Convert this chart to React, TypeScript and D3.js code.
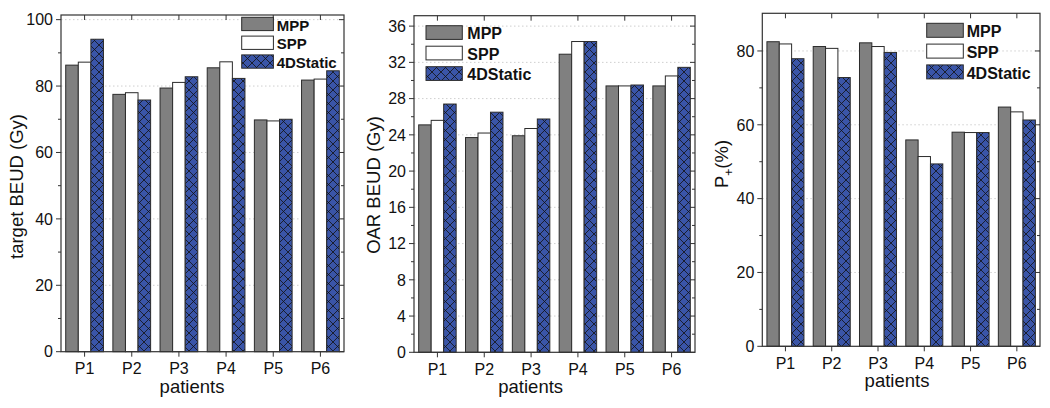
import React from 'react';
import * as d3 from 'd3';

const categories = ['P1', 'P2', 'P3', 'P4', 'P5', 'P6'];
const seriesNames = ['MPP', 'SPP', '4DStatic'];

const targetMPP = [86.3, 77.5, 79.4, 85.5, 69.8, 81.8];
const targetSPP = [87.2, 78.0, 81.1, 87.3, 69.5, 82.1];
const target4D = [94.1, 75.8, 82.8, 82.3, 70.0, 84.6];

const oarMPP = [25.1, 23.7, 23.9, 32.9, 29.4, 29.4];
const oarSPP = [25.6, 24.2, 24.7, 34.3, 29.4, 30.5];
const oar4D = [27.4, 26.5, 25.75, 34.3, 29.5, 31.45];

const ppMPP = [82.5, 81.2, 82.2, 55.9, 58.0, 64.8];
const ppSPP = [81.9, 80.7, 81.2, 51.4, 57.9, 63.5];
const pp4D = [77.9, 72.8, 79.6, 49.4, 57.9, 61.3];

const targetTicks = [0, 20, 40, 60, 80, 100];
const oarTicks = [0, 4, 8, 12, 16, 20, 24, 28, 32, 36];
const ppTicks = [0, 20, 40, 60, 80];

const FONT = 'Arial, "Liberation Sans", sans-serif';
const FRAME = '#333';
const GRAY = '#808080';
const BLUE = '#3a55a8';

type PanelCfg = {
  left: number; right: number; top: number; bottom: number;
  yMax: number; ticks: number[]; minorStep: number;
  series: number[][];
  yTitle: React.ReactNode; yTitleX: number; yTitleY: number;
  xTitleX: number;
  legend: { x: number; y: number; w: number; h: number; gap: number; tx: number; fs: number };
};

const panels: PanelCfg[] = [
  {
    left: 61, right: 344, top: 15, bottom: 351.7, yMax: 101.4, ticks: targetTicks, minorStep: 10,
    series: [targetMPP, targetSPP, target4D],
    yTitle: 'target BEUD (Gy)', yTitleX: 23, yTitleY: 186.5, xTitleX: 192,
    legend: { x: 241.7, y: 17.3, w: 31.7, h: 13.3, gap: 18.8, tx: 276.7, fs: 15 },
  },
  {
    left: 414, right: 695, top: 15.7, bottom: 352.3, yMax: 37.15, ticks: oarTicks, minorStep: 2,
    series: [oarMPP, oarSPP, oar4D],
    yTitle: 'OAR BEUD (Gy)', yTitleX: 379.5, yTitleY: 185, xTitleX: 530.7,
    legend: { x: 426, y: 25.7, w: 36.3, h: 13.7, gap: 20.5, tx: 467.3, fs: 16 },
  },
  {
    left: 762.3, right: 1040, top: 13.3, bottom: 346.3, yMax: 90.2, ticks: ppTicks, minorStep: 10,
    series: [ppMPP, ppSPP, pp4D],
    yTitle: (
      <>
        P<tspan fontSize={12} dy={5}>+</tspan><tspan dy={-5}>(%)</tspan>
      </>
    ),
    yTitleX: 727.7, yTitleY: 164, xTitleX: 897,
    legend: { x: 926.7, y: 23.3, w: 36.6, h: 14, gap: 20.8, tx: 966.7, fs: 16 },
  },
];

function fillFor(i: number) {
  if (i === 0) return GRAY;
  if (i === 1) return '#ffffff';
  return 'url(#hatch)';
}

function Panel({ cfg }: { cfg: PanelCfg }) {
  const x = d3.scaleBand<string>().domain(categories).range([cfg.left, cfg.right]).paddingInner(0.2).paddingOuter(0.1);
  const xs = d3.scaleBand<string>().domain(seriesNames).range([0, x.bandwidth()]).padding(0);
  const y = d3.scaleLinear().domain([0, cfg.yMax]).range([cfg.bottom, cfg.top]);
  const maxTick = cfg.ticks[cfg.ticks.length - 1];
  const minor = d3.range(cfg.minorStep, maxTick + cfg.minorStep * 0.5, cfg.minorStep * 2).filter(v => v < cfg.yMax);
  const cx = (c: string) => (x(c) as number) + x.bandwidth() / 2;
  const L = cfg.legend;
  return (
    <g>
      {cfg.ticks.filter(t => t > 0).map(t => (
        <line key={'g' + t} x1={cfg.left} x2={cfg.right} y1={y(t)} y2={y(t)} stroke="#cfcfcf" strokeWidth={1} strokeDasharray="1.5,2.5" />
      ))}
      {cfg.series.map((vals, si) =>
        categories.map((c, ci) => (
          <rect key={si + '-' + ci}
            x={(x(c) as number) + (xs(seriesNames[si]) as number)}
            y={y(vals[ci])}
            width={xs.bandwidth()}
            height={y(0) - y(vals[ci])}
            fill={fillFor(si)} stroke="#2b2b2b" strokeWidth={1} />
        ))
      )}
      <rect x={cfg.left} y={cfg.top} width={cfg.right - cfg.left} height={cfg.bottom - cfg.top} fill="none" stroke={FRAME} strokeWidth={1.2} />
      {cfg.ticks.map(t => (
        <g key={'t' + t}>
          <line x1={cfg.left - 5} x2={cfg.left} y1={y(t)} y2={y(t)} stroke={FRAME} />
          <line x1={cfg.right - 5} x2={cfg.right} y1={y(t)} y2={y(t)} stroke={FRAME} />
          <text x={cfg.left - 8} y={y(t)} dy="0.36em" textAnchor="end" fontSize={16} fontFamily={FONT} fill="#111">{t}</text>
        </g>
      ))}
      {minor.map(t => (
        <g key={'m' + t}>
          <line x1={cfg.left - 3} x2={cfg.left} y1={y(t)} y2={y(t)} stroke={FRAME} />
          <line x1={cfg.right - 3} x2={cfg.right} y1={y(t)} y2={y(t)} stroke={FRAME} />
        </g>
      ))}
      {categories.map(c => (
        <g key={'x' + c}>
          <line x1={cx(c)} x2={cx(c)} y1={cfg.bottom} y2={cfg.bottom + 5} stroke={FRAME} />
          <line x1={cx(c)} x2={cx(c)} y1={cfg.top} y2={cfg.top + 5} stroke={FRAME} />
          <text x={cx(c)} y={cfg.bottom + 22.3} textAnchor="middle" fontSize={16} fontFamily={FONT} fill="#111">{c}</text>
        </g>
      ))}
      <text x={cfg.xTitleX} y={cfg.bottom + 41} textAnchor="middle" fontSize={18.5} fontFamily={FONT} fill="#111">patients</text>
      <text transform={`translate(${cfg.yTitleX},${cfg.yTitleY}) rotate(-90)`} textAnchor="middle" fontSize={18.5} fontFamily={FONT} fill="#111">{cfg.yTitle}</text>
      {seriesNames.map((s, i) => (
        <g key={'l' + s}>
          <rect x={L.x} y={L.y + i * L.gap} width={L.w} height={L.h} fill={fillFor(i)} stroke="#2b2b2b" strokeWidth={1} />
          <text x={L.tx} y={L.y + i * L.gap + L.h} fontSize={L.fs} fontWeight="bold" fontFamily={FONT} fill="#111">{s}</text>
        </g>
      ))}
    </g>
  );
}

export default function App() {
  return (
    <svg width={1050} height={408} style={{ position: 'absolute', left: 0, top: 0, background: '#fff' }}>
      <defs>
        <pattern id="hatch" patternUnits="userSpaceOnUse" width={9} height={9}>
          <rect width={9} height={9} fill={BLUE} />
          <path d="M0,0 L9,9 M9,0 L0,9" stroke="#111" strokeWidth={0.8} />
        </pattern>
      </defs>
      <rect width={1050} height={408} fill="#fff" />
      {panels.map((p, i) => <Panel key={i} cfg={p} />)}
    </svg>
  );
}
